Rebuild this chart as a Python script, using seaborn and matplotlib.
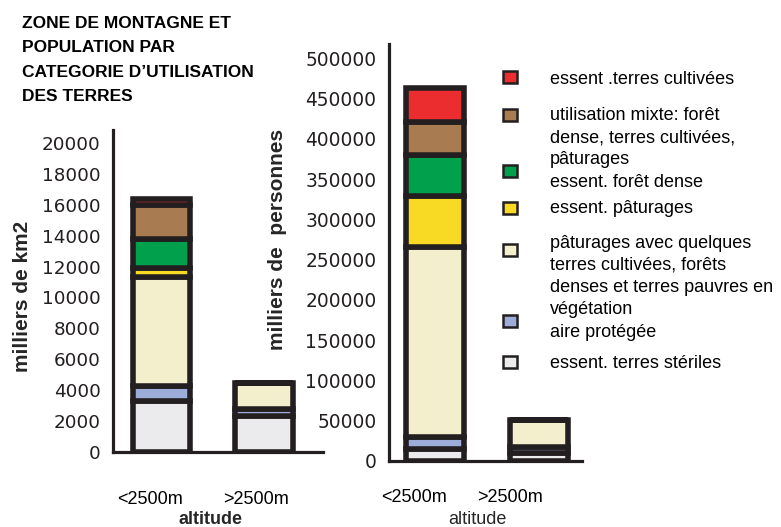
import matplotlib.pyplot as plt
from matplotlib.patches import Rectangle
import pandas as pd
import seaborn as sns

altitudes = ["<2500m", ">2500m"]
categories = [
    "essent .terres cultivées",
    "utilisation mixte: forêt\ndense, terres cultivées,\npâturages",
    "essent. forêt dense",
    "essent. pâturages",
    "pâturages avec quelques\nterres cultivées, forêts\ndenses et terres pauvres en\nvégétation",
    "aire protégée",
    "essent. terres stériles",
]
colors = ["#EC2D2F", "#A87B50", "#00A04D", "#F8DA24", "#F3EFCC", "#9CADD9", "#EBEBEE"]

# milliers de km2 (same order as categories, top of the stack first)
area_low = [350, 2200, 1900, 600, 7000, 1000, 3300]
area_high = [0, 0, 0, 0, 1650, 500, 2300]

# milliers de personnes
pop_low = [42500, 41500, 50000, 63500, 236000, 15500, 14500]
pop_high = [0, 0, 0, 0, 33000, 8500, 9500]

area_ticks = list(range(0, 20001, 2000))
pop_ticks = list(range(0, 500001, 50000))

title = "ZONE DE MONTAGNE ET\nPOPULATION PAR\nCATEGORIE D’UTILISATION\nDES TERRES"

INK = "#231F20"
W, H = 781, 527

sns.set_style("white")
plt.rcParams["font.family"] = ["Liberation Sans", "DejaVu Sans"]


def long_table(low, high):
    rows = []
    for cat, a, b in zip(categories, low, high):
        rows.append({"altitude": altitudes[0], "categorie": cat, "valeur": a})
        rows.append({"altitude": altitudes[1], "categorie": cat, "valeur": b})
    return pd.DataFrame(rows)


def stacked(ax, df, shrink):
    sns.histplot(data=df, x="altitude", hue="categorie", weights="valeur",
                 hue_order=categories, palette=dict(zip(categories, colors)),
                 multiple="stack", discrete=True, shrink=shrink, alpha=1,
                 edgecolor=INK, linewidth=4, legend=False, ax=ax)
    ax.spines[["top", "right"]].set_visible(False)
    for s in ("left", "bottom"):
        ax.spines[s].set_linewidth(2.3)
        ax.spines[s].set_color(INK)


def px_axes(left, right, y0, ytop):
    # y0 = pixel row of value 0, ytop = pixel row of top of axis
    return fig.add_axes([left / W, (H - y0) / H, (right - left) / W, (y0 - ytop) / H])


def text_lines(x, first_base, step, s, **kw):
    # one text per line so every baseline sits where the original has it
    for i, line in enumerate(s.split("\n")):
        fig.text(x / W, 1 - (first_base + i * step) / H, line,
                 ha="left", va="baseline", **kw)


fig = plt.figure(figsize=(W / 100, H / 100), dpi=100)

# ---- left panel: area
ax1 = px_axes(113, 323, 452, 130)
stacked(ax1, long_table(area_low, area_high), 0.565)
ax1.set_xlim(-0.475, 1.58)
ax1.set_ylim(0, 20833)
ax1.set_yticks(area_ticks, labels=[str(t) for t in area_ticks],
               fontfamily="DejaVu Sans", fontsize=13.2, color=INK)
ax1.set_xticks([-0.11, 0.92], labels=altitudes, fontsize=13, color="black")
ax1.tick_params(axis="y", length=0, pad=9)
ax1.tick_params(axis="x", length=0, pad=28)
ax1.set_xlabel("altitude", fontweight="bold", fontsize=13)
ax1.xaxis.set_label_coords(0.462, -0.183)
ax1.set_ylabel("milliers de km2", fontweight="bold", fontsize=15)
ax1.yaxis.set_label_coords(-0.384, 0.484)

# ---- right panel: population
ax2 = px_axes(389, 582, 461, 44)
stacked(ax2, long_table(pop_low, pop_high), 0.56)
ax2.set_xlim(-0.44, 1.41)
ax2.set_ylim(0, (461 - 44) / (461 - 58.3) * 500000)
ax2.set_yticks(pop_ticks, labels=[str(t) for t in pop_ticks],
               fontfamily="DejaVu Sans", fontsize=13.4, color=INK)
ax2.set_xticks([-0.2, 0.72], labels=altitudes, fontsize=13, color="black")
ax2.tick_params(axis="y", length=0, pad=9)
ax2.tick_params(axis="x", length=0, pad=20.5)
ax2.set_xlabel("altitude", fontsize=13)
ax2.xaxis.set_label_coords(0.456, -0.12)
ax2.set_ylabel("milliers de  personnes", fontweight="bold", fontsize=15)
ax2.yaxis.set_label_coords(-0.526, 0.532)

# ---- title
text_lines(22, 28, 24.3, title, fontsize=12.5, fontweight="bold", color="black")

# ---- legend (drawn by hand to keep the original layout)
square_y = [77, 115, 171, 208, 250, 321, 362]
text_base = [84, 120, 187, 213, 248, 337, 368]
for cat, col, sy, ty in zip(categories, colors, square_y, text_base):
    fig.add_artist(Rectangle(((510 - 7) / W, 1 - (sy + 6) / H), 14 / W, 12 / H,
                             transform=fig.transFigure, facecolor=col,
                             edgecolor=INK, linewidth=1.8))
    text_lines(550, ty, 22, cat, fontsize=13, color="black")

fig.savefig("out.png", dpi=100)
